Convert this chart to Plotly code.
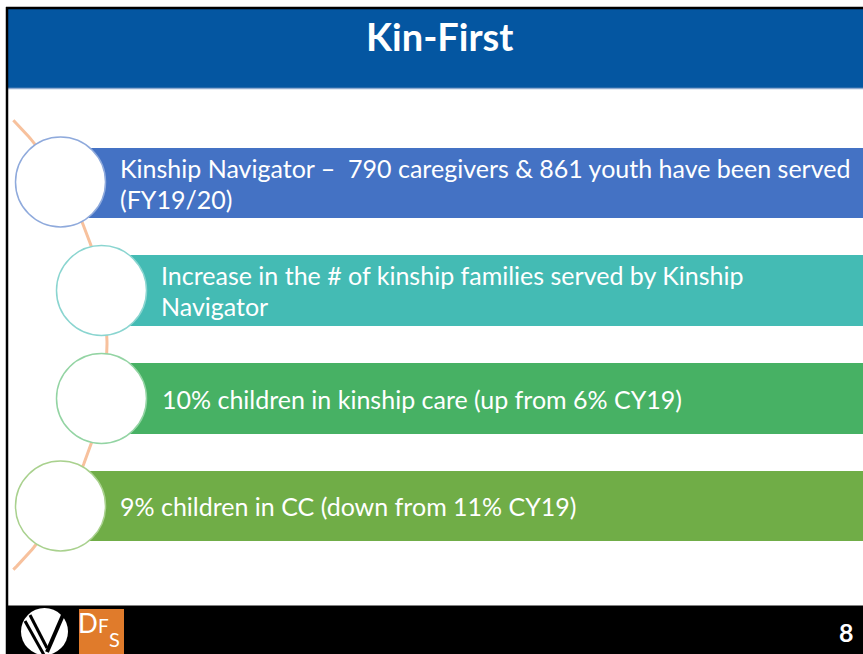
import numpy as np
import plotly.graph_objects as go

W, H = 863, 654

title_text = "Kin-First"
item_lines = [
    ["Kinship Navigator \u2013  790 caregivers & 861 youth have been served", "(FY19/20)"],
    ["Increase in the # of kinship families served by Kinship", "Navigator"],
    ["10% children in kinship care (up from 6% CY19)"],
    ["9% children in CC (down from 11% CY19)"],
]
page_number = "8"

bar_colors = ["#4472C4", "#44BBB4", "#47B164", "#70AD47"]
ring_colors = ["#8FAADC", "#8AD5D0", "#93D4A3", "#A9D18E"]

# layout geometry (pixels)
circle_cx = [60.5, 101.5, 101.5, 60.5]
circle_cy = [182, 290.5, 398.5, 506]
R = 45
bar_top = [148, 255, 363, 471]
bar_bot = [218, 326, 434, 541]
text_x = [118, 159, 160, 118]

FONT = "Lato"

fig = go.Figure()

# decorative arc connecting circles
acx, acy, ar = -209.3, 345.0, 316.3
th = np.linspace(-0.79, 0.79, 200)
fig.add_trace(go.Scatter(x=acx + ar * np.cos(th), y=acy + ar * np.sin(th),
                         mode="lines", line=dict(color="#F7C19D", width=3),
                         hoverinfo="skip", showlegend=False))

shapes = []
# header
shapes.append(dict(type="rect", x0=8, x1=W + 2, y0=9, y1=88, fillcolor="#0456A1", line=dict(width=0)))
shapes.append(dict(type="line", x0=8, x1=W + 2, y0=88.5, y1=88.5, line=dict(color="#8FAAD0", width=1.5)))
# footer
shapes.append(dict(type="rect", x0=7, x1=W + 2, y0=606, y1=H + 2, fillcolor="#000000", line=dict(width=0)))
shapes.append(dict(type="line", x0=7, x1=W + 2, y0=605.5, y1=605.5, line=dict(color="#808080", width=1)))
# outer border
shapes.append(dict(type="line", x0=7, x1=7, y0=7, y1=H + 2, line=dict(color="#000000", width=2.5)))
shapes.append(dict(type="line", x0=6, x1=W + 2, y0=8, y1=8, line=dict(color="#000000", width=2.5)))

for i in range(4):
    shapes.append(dict(type="rect", x0=circle_cx[i] + 28, x1=W + 2, y0=bar_top[i], y1=bar_bot[i],
                       fillcolor=bar_colors[i], line=dict(width=0)))
for i in range(4):
    shapes.append(dict(type="circle", x0=circle_cx[i] - R, x1=circle_cx[i] + R,
                       y0=circle_cy[i] - R, y1=circle_cy[i] + R,
                       fillcolor="#FFFFFF", line=dict(color=ring_colors[i], width=1.5)))

# V logo
shapes.append(dict(type="circle", x0=21, x1=68, y0=608, y1=655, fillcolor="#FFFFFF", line=dict(width=0)))
shapes.append(dict(type="line", x0=25, x1=44, y0=621, y1=655, line=dict(color="#000000", width=3)))
shapes.append(dict(type="line", x0=30, x1=47, y0=615, y1=648, line=dict(color="#000000", width=3)))
shapes.append(dict(type="line", x0=63, x1=47, y0=615, y1=652, line=dict(color="#000000", width=4)))
# DFS logo
shapes.append(dict(type="rect", x0=79, x1=124, y0=609, y1=H + 2, fillcolor="#E07B2B", line=dict(width=0)))

for s in shapes:
    s.setdefault("layer", "above")
    s["xref"] = "x"
    s["yref"] = "y"

annotations = []
annotations.append(dict(x=439, y=36, text="<b>" + title_text + "</b>", showarrow=False,
                        xanchor="center", yanchor="middle",
                        font=dict(family=FONT, size=38, color="#FFFFFF")))
for i, lines in enumerate(item_lines):
    n = len(lines)
    mid = (bar_top[i] + bar_bot[i]) / 2
    for j, ln in enumerate(lines):
        y = mid + (j - (n - 1) / 2) * 31
        annotations.append(dict(x=text_x[i], y=y, text=ln, showarrow=False,
                                xanchor="left", yanchor="middle",
                                font=dict(family=FONT, size=25, color="#FFFFFF")))
annotations.append(dict(x=846, y=632, text="<b>" + page_number + "</b>", showarrow=False,
                        xanchor="center", yanchor="middle",
                        font=dict(family=FONT, size=25, color="#FFFFFF")))
# DFS letters
for ch, x, y, sz in [("D", 88, 623, 26), ("F", 103, 625, 19), ("S", 114, 639, 20)]:
    annotations.append(dict(x=x, y=y, text=ch, showarrow=False, xanchor="center", yanchor="middle",
                            borderpad=0,
                            font=dict(family=FONT, size=sz, color="#FFFFFF")))

for a in annotations:
    a["xref"] = "x"
    a["yref"] = "y"

fig.update_layout(
    width=W, height=H,
    margin=dict(l=0, r=0, t=0, b=0),
    paper_bgcolor="#FFFFFF", plot_bgcolor="#FFFFFF",
    xaxis=dict(range=[0, W], visible=False, fixedrange=True),
    yaxis=dict(range=[H, 0], visible=False, fixedrange=True),
    shapes=shapes, annotations=annotations,
    showlegend=False,
)

fig.write_html("out.html", config={"displayModeBar": False})

# remove default page margin so the figure sits at the window's top-left corner
with open("out.html", "r", encoding="utf-8") as f:
    html = f.read()
html = html.replace("<body>", '<body style="margin:0;padding:0;overflow:hidden">', 1)
with open("out.html", "w", encoding="utf-8") as f:
    f.write(html)
